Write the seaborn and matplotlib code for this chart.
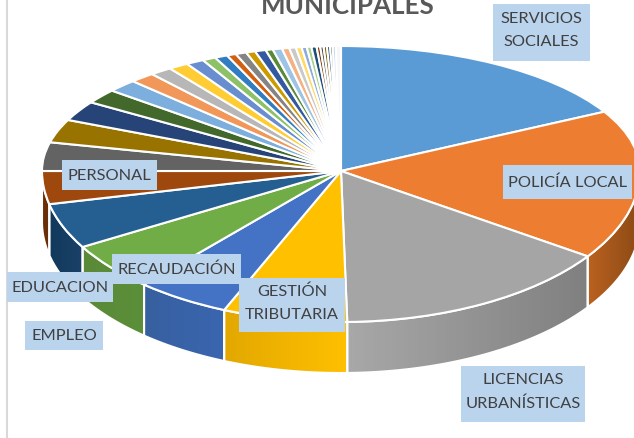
import numpy as np
import matplotlib
matplotlib.use("Agg")
import matplotlib.pyplot as plt
from matplotlib.colors import LinearSegmentedColormap
from matplotlib.patches import Polygon
import seaborn as sns

title = "MUNICIPALES"

# slice sizes read clockwise from the top of the pie
values = [61.7, 62.7, 54.4, 24.2, 18.2, 18.6, 17.5, 12.7, 13.3, 10.8, 9.2, 6.7, 5.9,
          4.9, 4.3, 3.9, 3.5, 2.6, 2.5, 1.8, 2.1, 1.8, 2.1, 1.4, 1.8, 1.4, 1.3, 1.1,
          1.0, 0.9, 1.0, 0.7, 0.65, 0.65, 0.6, 0.5, 0.6, 1.0]

colors = ["#5B9BD5", "#ED7D31", "#A5A5A5", "#FFC000", "#4472C4", "#70AD47",
          "#255E91", "#9E480E", "#636363", "#997300", "#264478", "#43682B",
          "#7CAFDD", "#F1975A", "#B7B7B7", "#FFCD33", "#698ED0", "#8CC168",
          "#327DC2", "#D26012", "#848484", "#CC9A00", "#335AA1", "#5A8A39",
          "#9DC3E6", "#F4B183", "#C9C9C9", "#FFD966", "#8FAADC", "#A9D18E",
          "#1F4E79", "#843C0C", "#525252", "#7F6000", "#203864", "#385723",
          "#BDD7EE", "#F7F7F7"]

# side wall shades (left end, right end) for the slices facing the viewer
side_idx = [1, 2, 3, 4, 5, 6, 7]
side_left = ["#BA6120", "#A8A8A8", "#E3A800", "#37609F", "#5A8A38", "#123A5C", "#6B2F08"]
side_right = ["#8A4A14", "#808080", "#FFC000", "#3A66B0", "#5C8F3A", "#1A4068", "#6B2F08"]

labels = ["SERVICIOS\nSOCIALES", "POLICÍA LOCAL", "LICENCIAS\nURBANÍSTICAS", "GESTIÓN\nTRIBUTARIA",
          "RECAUDACIÓN", "EDUCACION", "EMPLEO", "PERSONAL"]
label_boxes = [(493, 5, 590, 62), (503, 166, 632, 200), (461, 367, 585, 423), (239, 279, 345, 333),
               (112, 255, 241, 285), (7, 273, 113, 303), (25, 322, 103, 351), (62, 161, 157, 191)]

W, H = 634, 439
cx, cy = 341, 172
rx, r_up, r_down = 299, 125, 151
depth = 51

sns.set_style("white")
plt.rcParams["font.family"] = ["Lato", "DejaVu Sans"]

fig = plt.figure(figsize=(W / 100, H / 100), dpi=100, facecolor="white")

# pixel axes for the wall and the labels
bg = fig.add_axes([0, 0, 1, 1], zorder=0)
bg.set_xlim(0, W)
bg.set_ylim(H, 0)
bg.axis("off")

bg.plot([7, 7], [0, H], color="#D9D9D9", lw=1.5)


def rim(a):
    a = np.radians(a)
    c = np.cos(a)
    return cx + rx * np.sin(a), cy - np.where(c > 0, r_up, r_down) * c


edges = np.cumsum([0] + values) / sum(values) * 360
for i, c0, c1 in zip(side_idx, side_left, side_right):
    a = np.linspace(max(edges[i], 90), min(edges[i + 1], 270), 60)
    x, y = rim(a)
    pts = np.column_stack([np.r_[x, x[::-1]], np.r_[y, y[::-1] + depth]])
    lo, hi = x.min(), x.max()
    cmap = LinearSegmentedColormap.from_list("side", [c0, c1])
    im = bg.imshow(np.linspace(0, 1, 64).reshape(1, -1), cmap=cmap, aspect="auto",
                   extent=(lo, hi, H, 0), zorder=1)
    im.set_clip_path(Polygon(pts, transform=bg.transData))
    bg.add_patch(Polygon(pts, closed=True, fill=False, edgecolor="white", lw=1.5, zorder=2))
bg.set_xlim(0, W)
bg.set_ylim(H, 0)

# pie axes, the top half of the disc is squeezed more than the bottom (perspective)
ax = fig.add_axes([0, 0, 1, 1], zorder=1)
ax.patch.set_alpha(0)


def fwd(y):
    y = np.asarray(y, dtype=float)
    return np.where(y > 0, y * r_up, y * r_down)


def inv(y):
    y = np.asarray(y, dtype=float)
    return np.where(y > 0, y / r_up, y / r_down)


ax.pie(values, colors=sns.color_palette(colors, len(colors)), startangle=90, counterclock=False,
       radius=1, wedgeprops=dict(edgecolor="white", linewidth=1.5))
ax.set_aspect("auto")
ax.set_yscale("function", functions=(fwd, inv))
ax.set_xlim((0 - cx) / rx, (W - cx) / rx)
ax.set_ylim((cy - H) / r_down, cy / r_up)
ax.axis("off")

# labels on top of everything
top = fig.add_axes([0, 0, 1, 1], zorder=2)
top.patch.set_alpha(0)
top.set_xlim(0, W)
top.set_ylim(H, 0)
top.axis("off")

# the title is cut by the top edge in the reference too
top.text(348, 14, title, ha="center", va="baseline", fontsize=18.7, fontweight="bold", color="#595959")

for txt, (x0, y0, x1, y1) in zip(labels, label_boxes):
    top.fill([x0, x1, x1, x0], [y0, y0, y1, y1], color="#BAD4EE", lw=0)
    shift = 3 if "\n" in txt else 0
    top.text((x0 + x1) / 2, (y0 + y1) / 2 - shift, txt, ha="center", va="center", fontsize=11.8,
             color="#404040", linespacing=1.8)

fig.savefig("out.png", dpi=100)
